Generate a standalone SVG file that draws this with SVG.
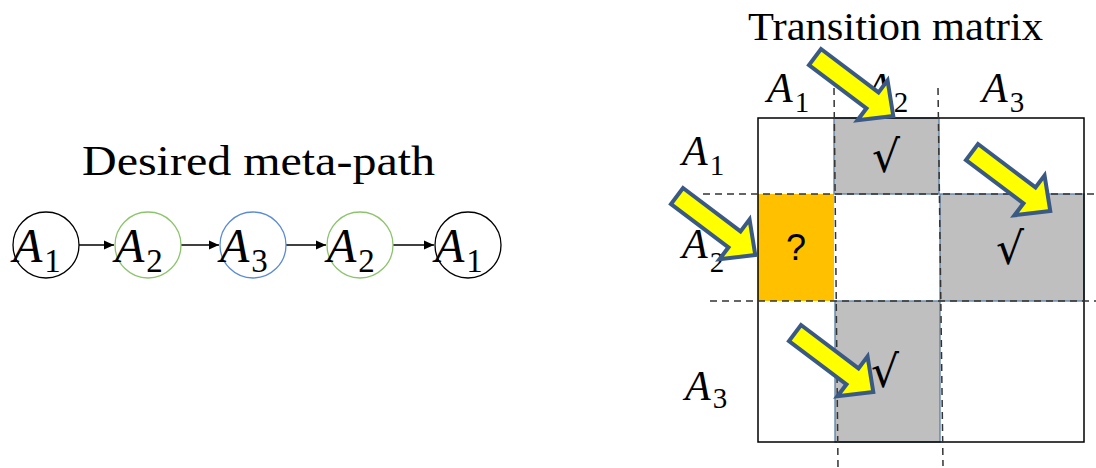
<svg xmlns="http://www.w3.org/2000/svg" width="1096" height="468" viewBox="0 0 1096 468">
<style>
.title{font-family:"Liberation Serif","Times New Roman",serif;fill:#000}
.va{font-family:"Liberation Serif","Times New Roman",serif;font-style:italic;fill:#000}
.sub{font-style:normal}
.node{fill:none;stroke-width:1.3}
.conn{stroke:#000;stroke-width:1.5;fill:none}
.gray{fill:#BFBFBF;stroke:#5B7FA6;stroke-width:1.3}
.dash{stroke:#333;stroke-width:1.5;stroke-dasharray:7,5;fill:none}
.mark{font-family:"DejaVu Sans","Liberation Sans",sans-serif;font-size:44px;text-anchor:middle;fill:#000}
.yarrow{fill:#FFFF00;stroke:#3A5A85;stroke-width:4;stroke-linejoin:miter}
</style>
<defs>
<marker id="ah" viewBox="0 0 10 10" refX="10" refY="5" markerWidth="10" markerHeight="10" markerUnits="userSpaceOnUse" orient="auto">
<path d="M0,0.5 L10,5 L0,9.5 Z" fill="#000"/>
</marker>
<path id="blk" d="M0,-10 L72,-10 L72,-25 L98,0 L72,25 L72,10 L0,10 Z"/>
</defs>
<rect width="1096" height="468" fill="#fff"/>

<text class="title" x="82" y="175" font-size="42" textLength="353" lengthAdjust="spacingAndGlyphs">Desired meta-path</text>
<text class="title" x="748" y="40" font-size="41" textLength="295" lengthAdjust="spacingAndGlyphs">Transition matrix</text>

<g id="connectors">
<line class="conn" x1="79" y1="245" x2="114" y2="245" marker-end="url(#ah)"/>
<line class="conn" x1="181" y1="245" x2="219" y2="245" marker-end="url(#ah)"/>
<line class="conn" x1="286" y1="245" x2="326" y2="245" marker-end="url(#ah)"/>
<line class="conn" x1="393" y1="245" x2="434" y2="245" marker-end="url(#ah)"/>
</g>

<g id="n1"><circle class="node" cx="46" cy="245" r="33" stroke="#000"/><text class="va" x="13" y="262" font-size="48">A<tspan class="sub" font-size="33" dy="10" dx="2">1</tspan></text></g>
<g id="n2"><circle class="node" cx="148" cy="245" r="33" stroke="#8CC46C"/><text class="va" x="115" y="262" font-size="48">A<tspan class="sub" font-size="33" dy="10" dx="2">2</tspan></text></g>
<g id="n3"><circle class="node" cx="253" cy="245" r="33" stroke="#5B8BD6"/><text class="va" x="220" y="262" font-size="48">A<tspan class="sub" font-size="33" dy="10" dx="2">3</tspan></text></g>
<g id="n4"><circle class="node" cx="360" cy="245" r="33" stroke="#8CC46C"/><text class="va" x="327" y="262" font-size="48">A<tspan class="sub" font-size="33" dy="10" dx="2">2</tspan></text></g>
<g id="n5"><circle class="node" cx="468" cy="245" r="33" stroke="#000"/><text class="va" x="435" y="262" font-size="48">A<tspan class="sub" font-size="33" dy="10" dx="2">1</tspan></text></g>

<g id="matrix">
<rect x="758" y="194" width="76" height="107" fill="#FFC000"/>
<rect class="gray" x="834" y="118" width="105" height="76"/>
<rect class="gray" x="940" y="194" width="144" height="107"/>
<rect class="gray" x="835" y="301" width="105" height="141"/>
<rect x="758" y="118" width="326" height="324" fill="none" stroke="#000" stroke-width="1.5"/>
<line class="dash" x1="834" y1="88" x2="838" y2="467"/>
<line class="dash" x1="938" y1="88" x2="943" y2="466"/>
<line class="dash" x1="703" y1="194" x2="1096" y2="194"/>
<line class="dash" x1="710" y1="301" x2="1096" y2="301"/>
<text class="mark" x="886" y="172">√</text>
<text class="mark" x="1010" y="264">√</text>
<text class="mark" x="885" y="387">√</text>
<text x="796" y="260" font-family="Liberation Sans, Arial, sans-serif" font-size="36" text-anchor="middle">?</text>
</g>

<g id="labels">
<text class="va" x="767" y="102" font-size="42">A<tspan class="sub" font-size="29" dy="10" dx="2">1</tspan></text>
<text class="va" x="866" y="102" font-size="42">A<tspan class="sub" font-size="29" dy="10" dx="2">2</tspan></text>
<text class="va" x="982" y="102" font-size="42">A<tspan class="sub" font-size="29" dy="10" dx="2">3</tspan></text>
<text class="va" x="682" y="165" font-size="42">A<tspan class="sub" font-size="29" dy="10" dx="2">1</tspan></text>
<text class="va" x="682" y="258" font-size="42">A<tspan class="sub" font-size="29" dy="14" dx="2">2</tspan></text>
<text class="va" x="685" y="400" font-size="42">A<tspan class="sub" font-size="29" dy="8" dx="2">3</tspan></text>
</g>

<g id="yellow-arrows">
<use href="#blk" class="yarrow" transform="translate(815,57) rotate(37)"/>
<use href="#blk" class="yarrow" transform="translate(972,152) rotate(37)"/>
<use href="#blk" class="yarrow" transform="translate(677,196) rotate(37)"/>
<use href="#blk" class="yarrow" transform="translate(795,333) rotate(37)"/>
</g>
</svg>
